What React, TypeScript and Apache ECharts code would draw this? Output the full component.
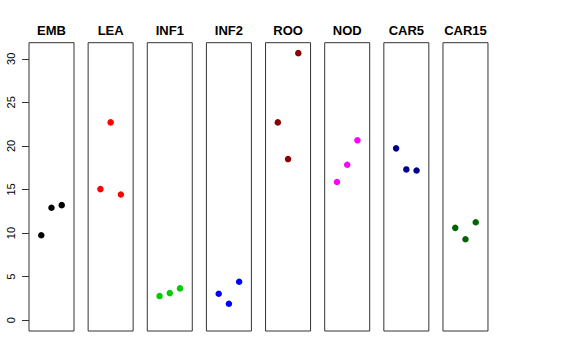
import React, { useEffect, useRef } from "react";
import * as echarts from "echarts";

const categories = ["EMB", "LEA", "INF1", "INF2", "ROO", "NOD", "CAR5", "CAR15"];
const colors = ["#000000", "#FF0000", "#00CD00", "#0000FF", "#8B0000", "#FF00FF", "#00008B", "#006400"];
const values: number[][] = [
  [9.75, 12.9, 13.2],
  [15.04, 22.7, 14.42],
  [2.76, 3.1, 3.64],
  [3.03, 1.88, 4.41],
  [22.7, 18.49, 30.65],
  [15.85, 17.84, 20.64],
  [19.72, 17.3, 17.18],
  [10.59, 9.28, 11.24],
];
const jitterPos = [-1, 0, 1];
const yTicks = [0, 5, 10, 15, 20, 25, 30];

export default function App() {
  const ref = useRef<HTMLDivElement>(null);
  useEffect(() => {
    if (!ref.current) return;
    const chart = echarts.init(ref.current, undefined, { renderer: "svg" });
    const left0 = 29;
    const step = 59.14;
    const w = 45;
    const top = 42.7;
    const h = 288.3;
    const grids: any[] = [];
    const xAxes: any[] = [];
    const yAxes: any[] = [];
    const series: any[] = [];
    const graphics: any[] = [];
    categories.forEach((cat, i) => {
      const left = left0 + step * i;
      grids.push({
        left,
        top,
        width: w,
        height: h,
        show: true,
        borderColor: "#333",
        borderWidth: 1,
        backgroundColor: "transparent",
      });
      xAxes.push({
        type: "value",
        gridIndex: i,
        min: -2.2,
        max: 2.2,
        show: false,
      });
      yAxes.push({
        type: "value",
        gridIndex: i,
        min: -1.25,
        max: 31.85,
        position: "left",
        splitLine: { show: false },
        axisLine: { show: false, onZero: false },
        axisTick: {
          show: i === 0,
          length: 7,
          inside: false,
          customValues: yTicks,
          lineStyle: { color: "#333" },
        },
        axisLabel: {
          show: i === 0,
          customValues: yTicks,
          rotate: 90,
          margin: 13,
          fontSize: 11,
          color: "#000",
          fontFamily: "Liberation Sans, Arial, sans-serif",
        },
      });
      series.push({
        type: "scatter",
        xAxisIndex: i,
        yAxisIndex: i,
        symbol: "circle",
        symbolSize: 6.5,
        itemStyle: { color: colors[i], opacity: 1 },
        data: values[i].map((v, j) => [jitterPos[j], v]),
      });
      graphics.push({
        type: "text",
        x: left + w / 2,
        y: 30,
        style: {
          text: cat,
          textAlign: "center",
          textVerticalAlign: "middle",
          fontSize: 13,
          fontWeight: "bold",
          fontFamily: "Liberation Sans, Arial, sans-serif",
          fill: "#000",
        },
      });
    });
    chart.setOption({
      animation: false,
      backgroundColor: "#fff",
      grid: grids,
      xAxis: xAxes,
      yAxis: yAxes,
      series,
      graphic: graphics,
    });
    return () => chart.dispose();
  }, []);
  return (
    <div
      ref={ref}
      style={{ position: "absolute", left: 0, top: 0, width: 576, height: 360 }}
    />
  );
}
